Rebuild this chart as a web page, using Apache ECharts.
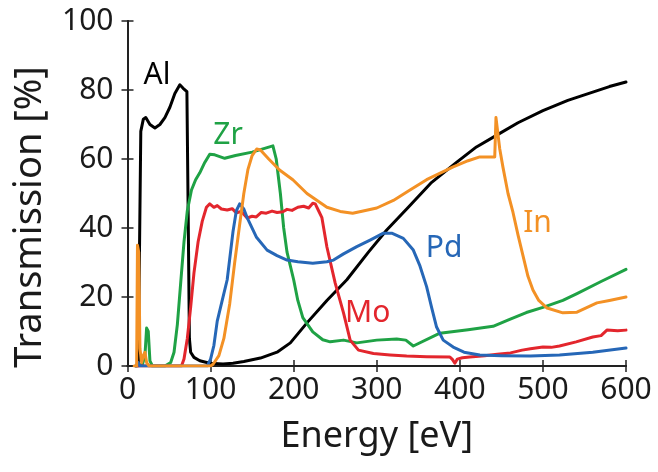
<!DOCTYPE html>
<html>
<head>
<meta charset="utf-8">
<script src="https://cdn.jsdelivr.net/npm/echarts@6/dist/echarts.min.js"></script>
<style>
  html, body { margin: 0; padding: 0; background: #ffffff; }
  #chart { width: 658px; height: 472px; }
</style>
</head>
<body>
<div id="chart"></div>
<script>
// Filter transmission curves: photon energy (eV) vs transmission (%)
const alEnergy = [10, 13, 14.5, 16, 19, 22, 27, 33, 39, 45, 51, 57, 63, 67, 71.5, 73, 74.5, 76, 80, 87, 99, 115, 127, 140, 160, 180, 196, 216, 240, 264, 290, 312, 338, 365, 396, 420, 445, 470, 500, 530, 560, 580, 600];
const alTrans  = [0, 0, 35, 68, 71.5, 72, 70, 69, 70, 72, 75, 79, 81.5, 80.5, 79.5, 45, 8, 4, 2.5, 1.5, 0.8, 0.6, 0.8, 1.3, 2.3, 4, 6.7, 12.5, 19, 25, 33, 39.4, 46, 53, 59, 63.5, 67, 70.5, 74, 77, 79.4, 81, 82.3];

const zrEnergy = [10, 18, 21, 23, 25, 27, 30, 45, 52, 56, 60, 64, 68, 72, 77, 82, 87, 93, 99, 105, 117, 130, 150, 175, 177, 179, 184, 188, 192, 200, 205, 211, 223, 235, 244, 260, 276, 300, 324, 335, 344, 376, 410, 440, 460, 480, 500, 524, 541, 570, 600];
const zrTrans  = [0, 0.5, 3, 11, 10, 1.5, 0, 0, 1, 4, 12, 24, 36, 45, 51, 54, 56, 59, 61.4, 61.2, 60.2, 61, 62, 63.8, 63.8, 60, 50, 40, 33, 25, 19, 14, 9.9, 7.6, 7, 7.5, 6.7, 7.5, 7.8, 7.5, 5.8, 9.5, 10.5, 11.5, 13.5, 15.5, 17, 19, 21, 24.5, 28];

const moEnergy = [10, 65, 68, 72, 76, 80, 85, 90, 95, 99, 104, 108, 113, 120, 126, 131, 137, 144, 150, 155, 161, 167, 174, 180, 187, 192, 198, 205, 212, 218, 223, 226, 230, 234, 240, 250, 260, 268, 278, 296, 316, 336, 360, 388, 391, 394, 397, 403, 412, 430, 445, 461, 475, 485, 500, 510, 520, 540, 560, 570, 577, 590, 600];
const moTrans  = [0, 0, 2, 8, 17, 27, 36, 42, 46, 47, 46, 46.5, 45.5, 45.2, 45.6, 44.4, 44.8, 42.9, 43.4, 43.2, 44.5, 44.3, 44.9, 44.5, 44.7, 45.4, 45.1, 46, 46.3, 45.8, 47.2, 47, 45, 43, 34.5, 24, 15.4, 7.5, 4.6, 3.6, 3.2, 2.9, 2.7, 2.6, 1.9, 0.8, 2, 2.4, 2.6, 3, 3.4, 3.8, 4.6, 5, 5.5, 5.4, 5.8, 7, 8.4, 8.8, 10.4, 10.2, 10.4];

const pdEnergy = [10, 13, 15, 17, 96, 100, 104, 108, 114, 120, 127, 131, 135, 140, 144, 155, 168, 180, 192, 205, 223, 240, 248, 260, 276, 292, 308, 318, 332, 344, 352, 360, 366, 372, 380, 392, 405, 424, 450, 485, 520, 560, 600];
const pdTrans  = [0, 1, 0, 0, 0, 2, 6, 13, 19, 25, 39, 45, 47, 45.5, 43, 37.4, 33.6, 32, 30.7, 30.2, 29.8, 30.2, 30.7, 32.5, 34.6, 36.5, 38.5, 38.5, 37, 33.6, 29, 23, 17, 11.3, 7.5, 5.5, 4, 3.2, 3, 2.9, 3.2, 4, 5.2];

const inEnergy = [8, 11, 12, 13.5, 15, 17, 19, 21, 23, 26, 100, 103, 110, 116, 123, 129, 135, 140, 145, 150, 155.5, 160, 170, 183, 199, 216, 240, 256, 271, 285, 300, 320, 340, 360, 392, 410, 424, 442, 443.5, 448, 452, 458, 464, 470, 476, 482, 488, 495, 505, 524, 541, 565, 580, 600];
const inTrans  = [0, 0, 35, 33, 5, 1, 3, 4, 1, 0, 0, 0.5, 3, 8, 18, 30, 41, 50, 57, 61, 62.9, 62.6, 60, 56.8, 54, 50, 46, 44.8, 44.3, 45, 45.8, 48, 51, 54, 57.7, 59.5, 60.6, 60.6, 72, 63, 57.5, 50, 44.5, 38, 32, 26, 22, 19, 16.8, 15.4, 15.6, 18.3, 19, 20];

// Curve names and where their text labels sit (energy, transmission)
const curveNames   = ['Al', 'Zr', 'Mo', 'Pd', 'In'];
const curveColors  = ['#000000', '#1fa245', '#e3262d', '#2667b7', '#f39125'];
const labelEnergy  = [35.5, 121, 289, 381, 493.5];
const labelTrans   = [84.3, 66.7, 15.2, 34, 41.2];

// Axis ticks
const xTicks = [0, 100, 200, 300, 400, 500, 600];
const yTicks = [0, 20, 40, 60, 80, 100];

const curveData = [
  [alEnergy, alTrans],
  [zrEnergy, zrTrans],
  [moEnergy, moTrans],
  [pdEnergy, pdTrans],
  [inEnergy, inTrans]
];

const FONT = '"Noto Sans", "Open Sans", sans-serif';
const TEXT = '#1a1a1a';

function zip(xs, ys) { return xs.map((x, i) => [x, ys[i]]); }

const series = curveData.map(([xs, ys], i) => ({
  name: curveNames[i],
  type: 'line',
  data: zip(xs, ys),
  showSymbol: false,
  symbol: 'none',
  smooth: false,
  lineStyle: { color: curveColors[i], width: 3, join: 'round', cap: 'round' },
  itemStyle: { color: curveColors[i] },
  z: 2 + i,
  silent: true,
  animation: false,
  markPoint: {
    symbol: 'circle',
    symbolSize: 0,
    silent: true,
    animation: false,
    data: [{ coord: [labelEnergy[i], labelTrans[i]] }],
    label: {
      show: true,
      position: 'inside',
      formatter: curveNames[i],
      color: curveColors[i],
      fontSize: 30,
      fontFamily: FONT
    }
  }
}));

const tickLabel = { color: TEXT, fontSize: 30, fontFamily: FONT };
const axisLine = { show: true, lineStyle: { color: '#222', width: 2 } };
const tickInside = { show: true, inside: true, length: 6, lineStyle: { color: '#222', width: 1.5 } };

const option = {
  backgroundColor: '#ffffff',
  animation: false,
  grid: { left: 127.5, right: 32, top: 21, bottom: 106, containLabel: false },
  // vertical axis title, placed as rotated text beside the y tick labels
  graphic: [{
    type: 'text',
    x: 30,
    y: 217,
    rotation: Math.PI / 2,
    silent: true,
    style: {
      text: 'Transmission [%]',
      fill: TEXT,
      font: '38px "Noto Sans", "Open Sans", sans-serif',
      align: 'center',
      verticalAlign: 'middle'
    }
  }],
  xAxis: [
    {
      type: 'value', position: 'bottom', min: xTicks[0], max: xTicks[xTicks.length - 1], interval: 100,
      axisLine, axisTick: tickInside, splitLine: { show: false },
      axisLabel: Object.assign({ margin: 9 }, tickLabel),
      name: 'Energy [eV]', nameLocation: 'middle', nameGap: 53,
      nameTextStyle: { color: TEXT, fontSize: 36, fontFamily: FONT }
    },
    {
      type: 'value', position: 'top', min: xTicks[0], max: xTicks[xTicks.length - 1], interval: 100,
      axisLine, axisTick: tickInside, splitLine: { show: false }, axisLabel: { show: false }
    }
  ],
  yAxis: [
    {
      type: 'value', position: 'left', min: yTicks[0], max: yTicks[yTicks.length - 1], interval: 20,
      axisLine, axisTick: tickInside, splitLine: { show: false },
      axisLabel: Object.assign({ margin: 14 }, tickLabel)
    },
    {
      type: 'value', position: 'right', min: yTicks[0], max: yTicks[yTicks.length - 1], interval: 20,
      axisLine, axisTick: tickInside, splitLine: { show: false }, axisLabel: { show: false }
    }
  ],
  series
};

const chart = echarts.init(document.getElementById('chart'), null, { renderer: 'canvas' });
chart.setOption(option);
</script>
</body>
</html>
